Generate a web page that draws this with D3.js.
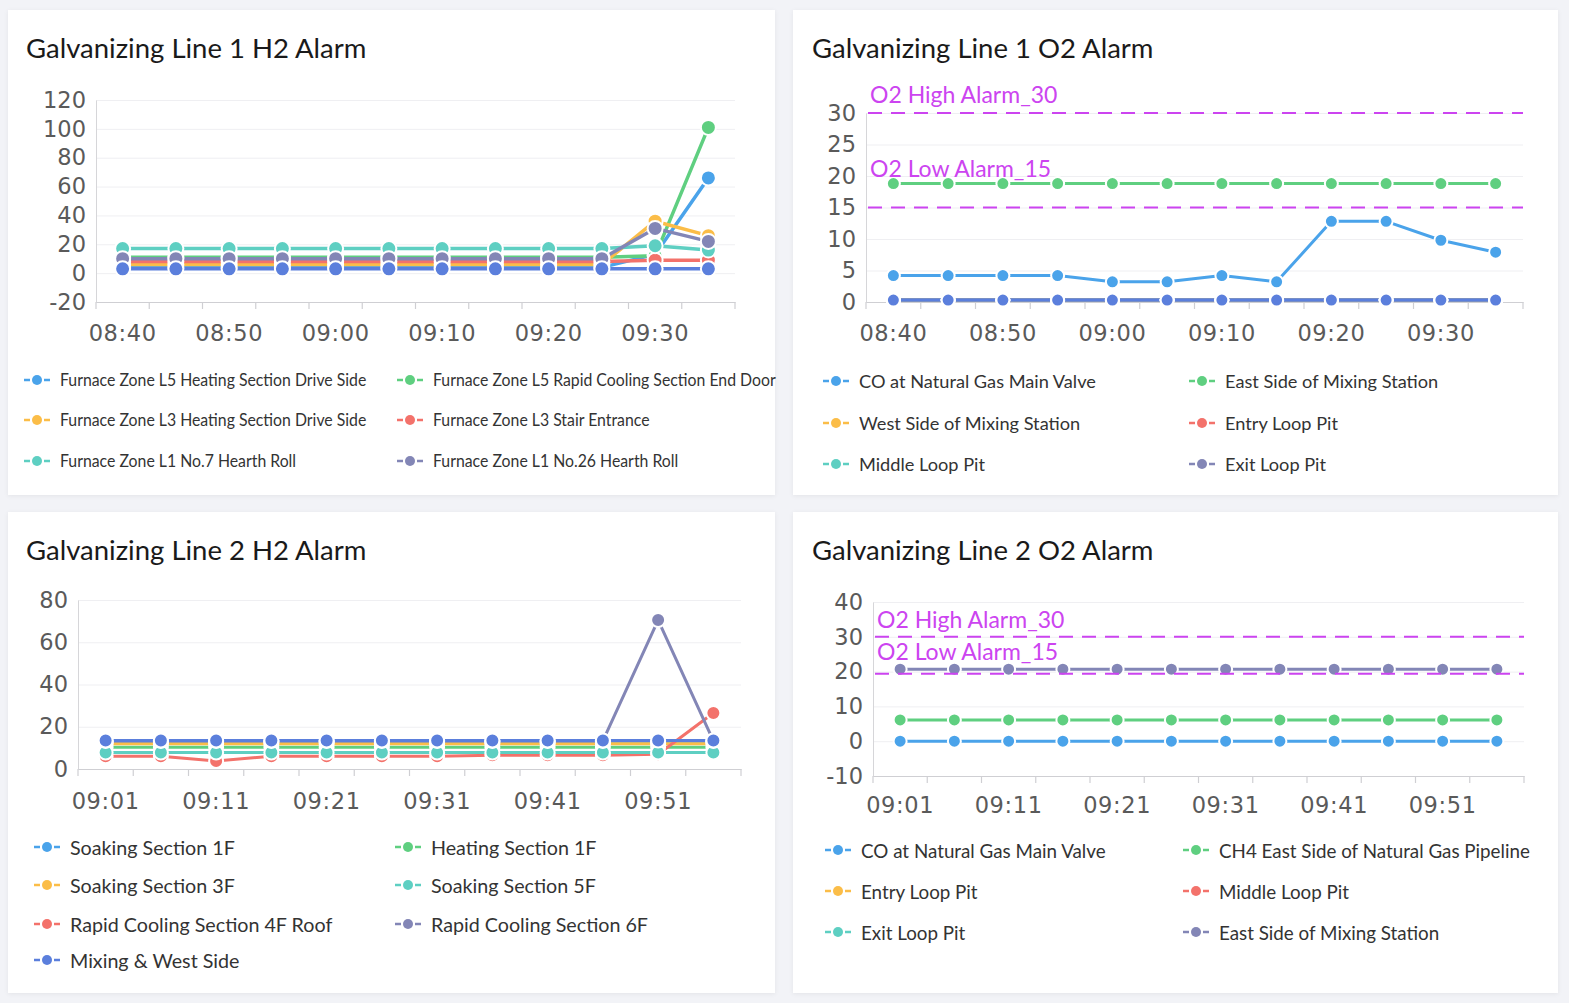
<!DOCTYPE html>
<html><head><meta charset="utf-8">
<script src="https://cdn.jsdelivr.net/npm/d3@7"></script>
<style>
html,body{margin:0;padding:0;background:#f2f3f7;}
svg{display:block}
</style></head><body>
<svg id="c" width="1569" height="1003"></svg>
<script>
// ---------------- DATA ----------------
const line1Times = ["08:40","08:45","08:50","08:55","09:00","09:05","09:10","09:15","09:20","09:25","09:30","09:35"];
const line2Times = ["09:01","09:06","09:11","09:16","09:21","09:26","09:31","09:36","09:41","09:46","09:51","09:56"];

// Galvanizing Line 1 H2 Alarm
const h2L1Names = ["Furnace Zone L5 Heating Section Drive Side","Furnace Zone L5 Rapid Cooling Section End Door",
  "Furnace Zone L3 Heating Section Drive Side","Furnace Zone L3 Stair Entrance",
  "Furnace Zone L1 No.7 Hearth Roll","Furnace Zone L1 No.26 Hearth Roll"];
const h2L1S1 = [4,4,4,4,4,4,4,4,4,4,13,66];
const h2L1S2 = [11,11,11,11,11,11,11,11,11,11,12,101];
const h2L1S3 = [6,6,6,6,6,6,6,6,6,6,36,26];
const h2L1S4 = [8,8,8,8,8,8,8,8,8,8,9,9];
const h2L1S5 = [17,17,17,17,17,17,17,17,17,17,19,16];
const h2L1S6 = [10,10,10,10,10,10,10,10,10,10,31,22];
const h2L1S7 = [3,3,3,3,3,3,3,3,3,3,3,3]; // series without visible legend entry
const h2L1Ticks = [-20,0,20,40,60,80,100,120];

// Galvanizing Line 1 O2 Alarm
const o2L1Names = ["CO at Natural Gas Main Valve","East Side of Mixing Station","West Side of Mixing Station",
  "Entry Loop Pit","Middle Loop Pit","Exit Loop Pit"];
const o2L1S1 = [4.2,4.2,4.2,4.2,3.2,3.2,4.2,3.2,12.8,12.8,9.8,7.9];
const o2L1S2 = [18.8,18.8,18.8,18.8,18.8,18.8,18.8,18.8,18.8,18.8,18.8,18.8];
const o2L1S3 = [0.3,0.3,0.3,0.3,0.3,0.3,0.3,0.3,0.3,0.3,0.3,0.3];
const o2L1S4 = [0.3,0.3,0.3,0.3,0.3,0.3,0.3,0.3,0.3,0.3,0.3,0.3];
const o2L1S5 = [0.3,0.3,0.3,0.3,0.3,0.3,0.3,0.3,0.3,0.3,0.3,0.3];
const o2L1S6 = [0.3,0.3,0.3,0.3,0.3,0.3,0.3,0.3,0.3,0.3,0.3,0.3];
const o2L1S7 = [0.3,0.3,0.3,0.3,0.3,0.3,0.3,0.3,0.3,0.3,0.3,0.3];
const o2L1Ticks = [0,5,10,15,20,25,30];
const o2L1Alarms = [{label:"O2 High Alarm_30", value:30},{label:"O2 Low Alarm_15", value:15}];

// Galvanizing Line 2 H2 Alarm
const h2L2Names = ["Soaking Section 1F","Heating Section 1F","Soaking Section 3F","Rapid Cooling Section 4F Roof",
  "Soaking Section 5F","Rapid Cooling Section 6F","Mixing & West Side"];
const h2L2S1 = [12.8,12.8,12.8,12.8,12.8,12.8,12.8,12.8,12.8,12.8,12.8,12.8];
const h2L2S2 = [10.3,10.3,10.3,10.3,10.3,10.3,10.3,10.3,10.3,10.3,10.3,10.3];
const h2L2S3 = [12,12,12,12,12,12,12,12,12,12,12,12];
const h2L2S4 = [6,6,3.8,6,6,6,6,6.5,6.5,6.5,7,26.5];
const h2L2S5 = [7.8,7.8,7.8,7.8,7.8,7.8,7.8,7.8,7.8,7.8,7.8,7.8];
const h2L2S6 = [13.3,13.3,13.3,13.3,13.3,13.3,13.3,13.3,13.3,13.3,70.5,13.3];
const h2L2S7 = [13.5,13.5,13.5,13.5,13.5,13.5,13.5,13.5,13.5,13.5,13.5,13.5];
const h2L2Ticks = [0,20,40,60,80];

// Galvanizing Line 2 O2 Alarm
const o2L2Names = ["CO at Natural Gas Main Valve","CH4 East Side of Natural Gas Pipeline","Entry Loop Pit",
  "Middle Loop Pit","Exit Loop Pit","East Side of Mixing Station"];
const o2L2S1 = [0,0,0,0,0,0,0,0,0,0,0,0];
const o2L2S2 = [6.1,6.1,6.1,6.1,6.1,6.1,6.1,6.1,6.1,6.1,6.1,6.1];
const o2L2S3 = [];
const o2L2S4 = [];
const o2L2S5 = [];
const o2L2S6 = [20.7,20.7,20.7,20.7,20.7,20.7,20.7,20.7,20.7,20.7,20.7,20.7];
const o2L2Ticks = [-10,0,10,20,30,40];
const o2L2Alarms = [{label:"O2 High Alarm_30", value:30},{label:"O2 Low Alarm_15", value:19.4}];

// ---------------- STYLE ----------------
const C = {blue:"#4aa3ea", green:"#5fcf80", orange:"#fbbd48", red:"#f3726b", teal:"#5ecfc2", purple:"#8386b6", royal:"#5b7fdc"};
const ALARM = "#cc44f0";
const FONT_AXIS = "'DejaVu Sans', Verdana, sans-serif";
const FONT_TXT = "Lato, 'Open Sans', sans-serif";

const svg = d3.select("#c");
const defs = svg.append("defs");
const f = defs.append("filter").attr("id","sh").attr("x","-5%").attr("y","-5%").attr("width","110%").attr("height","110%");
f.append("feDropShadow").attr("dx",0).attr("dy",1).attr("stdDeviation",2).attr("flood-color","#000").attr("flood-opacity",0.06);

const charts = [
  {panel:[8,10,767,485], title:"Galvanizing Line 1 H2 Alarm", titlePos:[26,47],
   plot:{x0:96,x1:735,yTop:100,yBot:302}, ticks:h2L1Ticks, times:line1Times, xPad:23,
   series:[[h2L1S1,C.blue],[h2L1S2,C.green],[h2L1S3,C.orange],[h2L1S4,C.red],[h2L1S5,C.teal],[h2L1S6,C.purple],[h2L1S7,C.royal]],
   names:h2L1Names, legendOrder:[0,1,2,3,4,5],
   legend:{cols:[37,410], rows:[380,420,461], font:17.5, sx:0.905},
   r:7.5, lw:3.5, alarms:[]},
  {panel:[793,10,765,485], title:"Galvanizing Line 1 O2 Alarm", titlePos:[812,47],
   plot:{x0:866,x1:1523,yTop:113,yBot:302}, ticks:o2L1Ticks, times:line1Times, xPad:23,
   series:[[o2L1S1,C.blue],[o2L1S2,C.green],[o2L1S3,C.orange],[o2L1S4,C.red],[o2L1S5,C.teal],[o2L1S6,C.purple],[o2L1S7,C.royal]],
   names:o2L1Names, legendOrder:[0,1,2,3,4,5],
   legend:{cols:[836,1202], rows:[381,423,464], font:18.2, sx:1},
   r:6.5, lw:3, alarms:o2L1Alarms, alarmDy:[19,40]},
  {panel:[8,512,767,481], title:"Galvanizing Line 2 H2 Alarm", titlePos:[26,549],
   plot:{x0:78,x1:741,yTop:600,yBot:769}, ticks:h2L2Ticks, times:line2Times, xPad:24,
   series:[[h2L2S1,C.blue],[h2L2S2,C.green],[h2L2S3,C.orange],[h2L2S4,C.red],[h2L2S5,C.teal],[h2L2S6,C.purple],[h2L2S7,C.royal]],
   names:h2L2Names, legendOrder:[0,1,2,4,3,5,6],
   legend:{cols:[47,408], rows:[847,885,924,960], font:19.7, sx:1},
   r:7, lw:3, alarms:[]},
  {panel:[793,512,765,481], title:"Galvanizing Line 2 O2 Alarm", titlePos:[812,549],
   plot:{x0:873,x1:1524,yTop:602,yBot:776}, ticks:o2L2Ticks, times:line2Times, xPad:21,
   series:[[o2L2S1,C.blue],[o2L2S2,C.green],[o2L2S3,C.orange],[o2L2S4,C.red],[o2L2S5,C.teal],[o2L2S6,C.purple]],
   names:o2L2Names, legendOrder:[0,1,2,3,4,5],
   legend:{cols:[838,1196], rows:[850,891,932], font:18.8, sx:1},
   r:6.5, lw:3, alarms:o2L2Alarms, alarmDy:[18,23]}
];

charts.forEach(cfg => {
  const g = svg.append("g");
  const [px,py,pw,ph] = cfg.panel;
  g.append("rect").attr("x",px).attr("y",py).attr("width",pw).attr("height",ph).attr("fill","#fff").attr("filter","url(#sh)");
  g.append("text").attr("x",cfg.titlePos[0]).attr("y",cfg.titlePos[1]).attr("dominant-baseline","central")
    .attr("font-family",FONT_TXT).attr("font-size",27.5).attr("fill","#1a1a1a").text(cfg.title);

  const p = cfg.plot;
  const x = d3.scaleBand().domain(cfg.times).range([p.x0,p.x1]).paddingInner(0).paddingOuter(0);
  const bw = x.bandwidth();
  const cx = t => x(t) + bw/2;
  const y = d3.scaleLinear().domain([cfg.ticks[0], cfg.ticks[cfg.ticks.length-1]]).range([p.yBot,p.yTop]);

  // grid
  const grid = g.append("g").attr("transform",`translate(${p.x0},0)`)
    .call(d3.axisLeft(y).tickValues(cfg.ticks).tickSize(-(p.x1-p.x0)).tickFormat(""));
  grid.select(".domain").remove();
  grid.selectAll("line").attr("stroke","#efeff2").attr("stroke-width",1);

  // y axis
  const ya = g.append("g").attr("transform",`translate(${p.x0},0)`)
    .call(d3.axisLeft(y).tickValues(cfg.ticks).tickSize(0).tickPadding(10).tickFormat(d => String(d)));
  ya.select(".domain").attr("stroke","#d6d6d9");
  ya.selectAll("text").attr("font-family",FONT_AXIS).attr("font-size",22.5).attr("fill","#5a5a5a");

  // x axis
  const xa = g.append("g").attr("transform",`translate(0,${p.yBot})`)
    .call(d3.axisBottom(x).tickValues(cfg.times.filter((t,i)=>i%2===0)).tickSize(0).tickPadding(cfg.xPad));
  xa.select(".domain").attr("stroke","#cfcfd3").attr("stroke-width",1.2);
  xa.selectAll("text").attr("font-family",FONT_AXIS).attr("font-size",22.5).attr("fill","#5a5a5a").attr("letter-spacing",0.6);
  const bounds = cfg.times.map(t => x(t)).concat([p.x1]);
  xa.selectAll("line.bt").data(bounds).join("line").attr("class","bt")
    .attr("x1",d=>d).attr("x2",d=>d).attr("y1",0).attr("y2",7).attr("stroke","#cfcfd3").attr("stroke-width",1.2);

  // lines
  const lineGen = d3.line().defined(d => d != null).x((d,i)=>cx(cfg.times[i])).y(d=>y(d));
  cfg.series.forEach(([vals,col]) => {
    if (!vals.length) return;
    g.append("path").datum(vals).attr("d",lineGen).attr("fill","none").attr("stroke",col)
      .attr("stroke-width",cfg.lw).attr("stroke-linejoin","round");
  });
  // symbols
  cfg.series.forEach(([vals,col]) => {
    g.append("g").selectAll("circle").data(vals).join("circle")
      .attr("cx",(d,i)=>cx(cfg.times[i])).attr("cy",d=>y(d)).attr("r",cfg.r)
      .attr("fill",col).attr("stroke","#fff").attr("stroke-width",2);
  });

  // alarm lines
  cfg.alarms.forEach((a,k) => {
    g.append("line").attr("x1",p.x0+2).attr("x2",p.x1).attr("y1",y(a.value)).attr("y2",y(a.value))
      .attr("stroke",ALARM).attr("stroke-width",2).attr("stroke-dasharray","14,9");
    g.append("text").attr("x",p.x0+4).attr("y",y(a.value)-cfg.alarmDy[k]).attr("dominant-baseline","central")
      .attr("font-family",FONT_TXT).attr("font-size",23).attr("fill",ALARM).text(a.label);
  });

  // legend
  const L = cfg.legend;
  cfg.legendOrder.forEach((si,k) => {
    const col = L.cols[k%2], row = L.rows[Math.floor(k/2)];
    const c = cfg.series[si][1];
    const lg = g.append("g");
    lg.append("line").attr("x1",col-13).attr("x2",col-7).attr("y1",row).attr("y2",row).attr("stroke",c).attr("stroke-width",2.5);
    lg.append("line").attr("x1",col+7).attr("x2",col+13).attr("y1",row).attr("y2",row).attr("stroke",c).attr("stroke-width",2.5);
    lg.append("circle").attr("cx",col).attr("cy",row).attr("r",5).attr("fill",c);
    const tx = col+23;
    lg.append("text").attr("x",0).attr("y",0).attr("dominant-baseline","central")
      .attr("transform",`translate(${tx},${row}) scale(${L.sx},1)`)
      .attr("font-family",FONT_TXT).attr("font-size",L.font).attr("fill","#333").text(cfg.names[si]);
  });
});
</script>
</body></html>
